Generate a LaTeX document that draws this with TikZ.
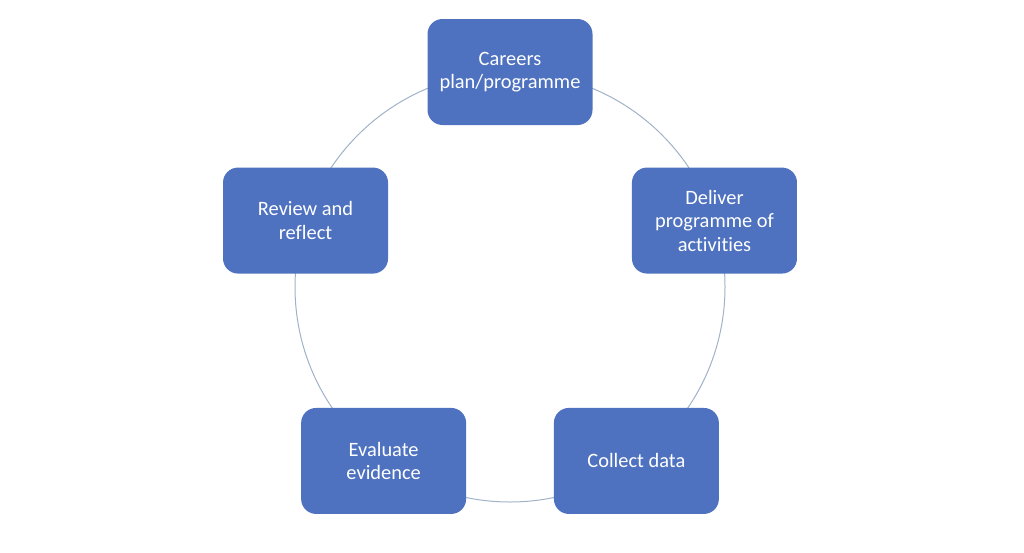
\documentclass[tikz,border=0pt]{standalone}
\usepackage{fontspec}
\setmainfont{Carlito}[Ligatures=NoCommon]
\usetikzlibrary{calc}
\definecolor{boxblue}{RGB}{78,114,192}
\definecolor{ringgray}{RGB}{160,178,200}
\tikzset{
  stage/.style={draw=none, fill=boxblue, rounded corners=11.25pt,
    minimum width=123.75pt, minimum height=79.5pt, text=white,
    align=center, font=\fontsize{15.3}{17.6}\selectfont},
}
\begin{document}
\begin{tikzpicture}[x=0.75pt,y=-0.75pt]
        \useasboundingbox (0,0) rectangle (1024,553);
        \coordinate (centre) at (510,287);
        \draw[color=ringgray, line width=0.75pt] (centre) circle(161.25pt);
        \node[stage] (plan) at ($(centre)+(90:161.25pt)$) {Careers\\plan/programme};
        \node[stage] (deliver) at ($(centre)+(18:161.25pt)$) {Deliver\\programme of\\activities};
        \node[stage] (collect) at ($(centre)+(-54:161.25pt)$) {Collect data};
        \node[stage] (evaluate) at ($(centre)+(-126:161.25pt)$) {Evaluate\\evidence};
        \node[stage] (review) at ($(centre)+(162:161.25pt)$) {Review and\\reflect};
    \end{tikzpicture}
\end{document}
